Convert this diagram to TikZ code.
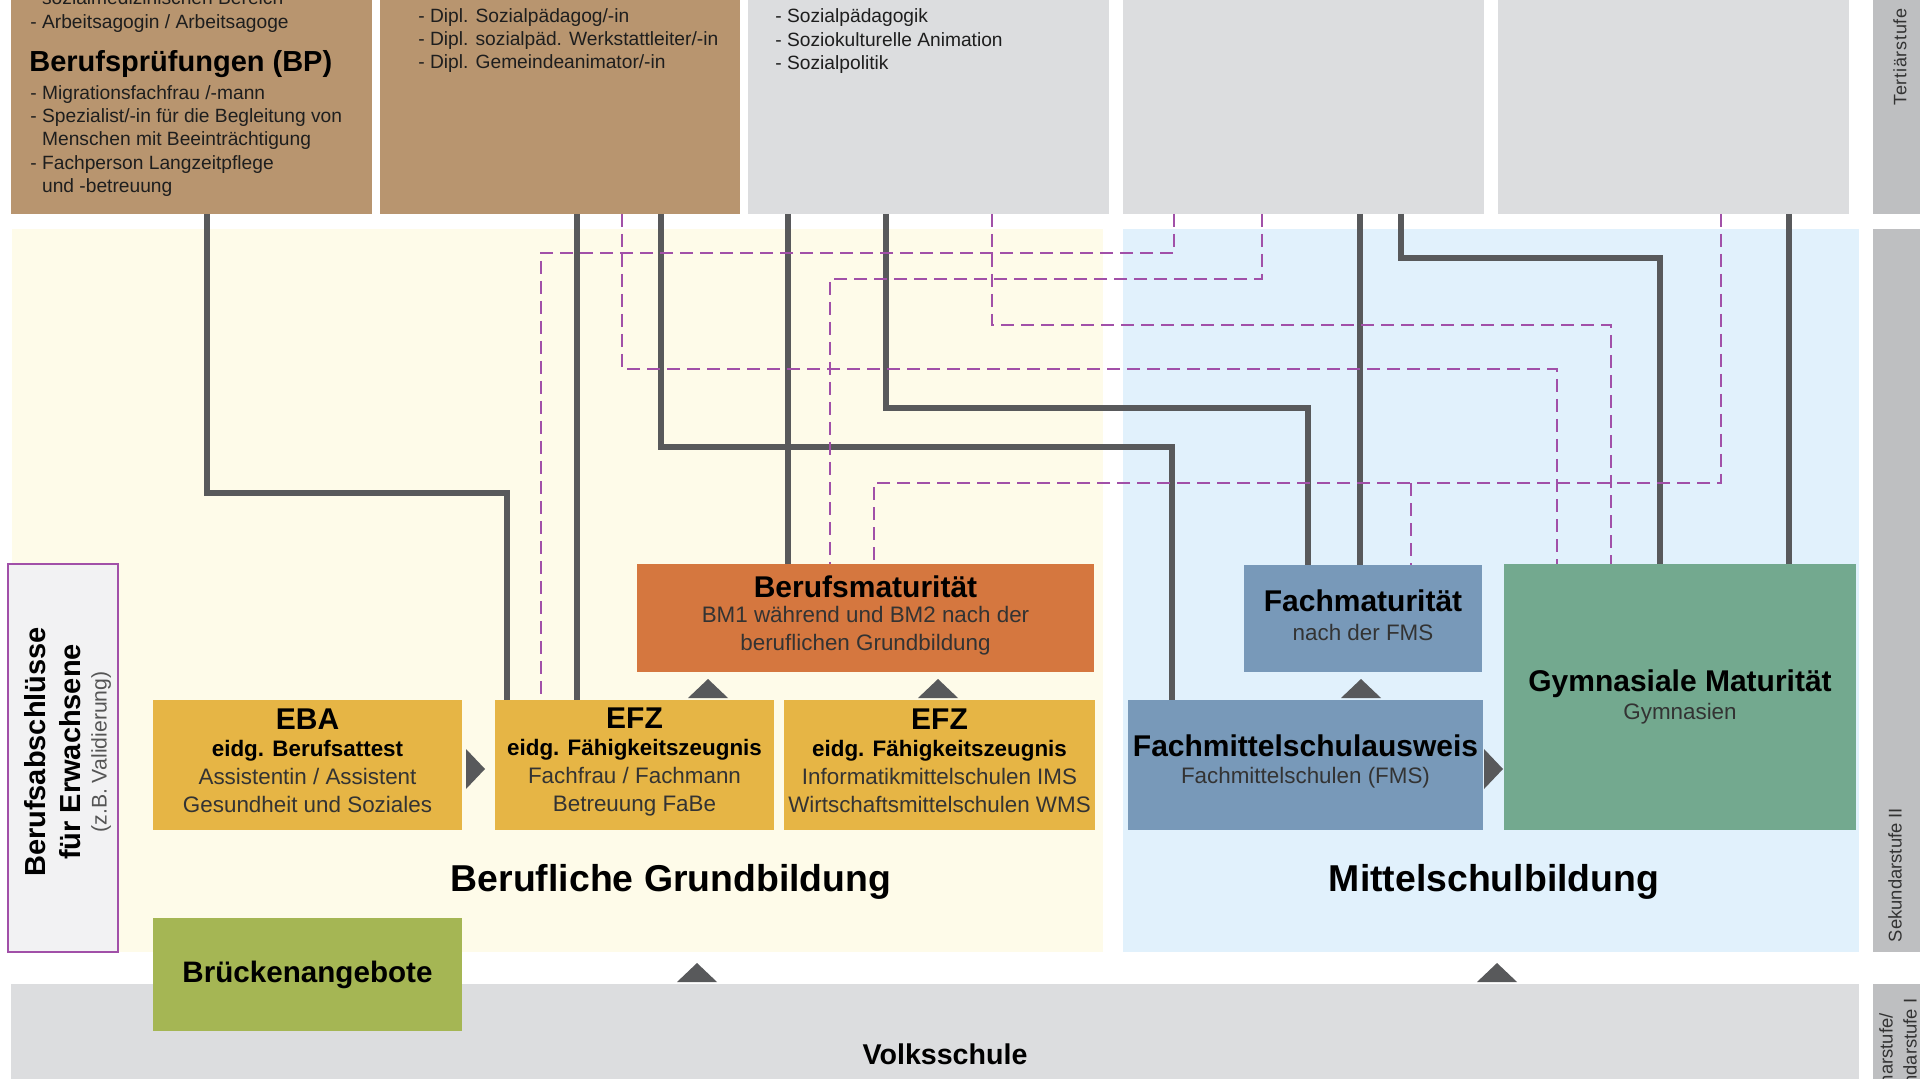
\documentclass[tikz,border=0pt]{standalone}
\usepackage{fontspec}
\setmainfont{Liberation Sans}
\newfontfamily\stripfont{Liberation Sans}[LetterSpace=4]
\usepackage{xcolor}
\definecolor{brownbox}{HTML}{B8956F}
\definecolor{greybox}{HTML}{DCDDDF}
\definecolor{stripgrey}{HTML}{BEBFC1}
\definecolor{creambg}{HTML}{FEFBE9}
\definecolor{skybg}{HTML}{E1F1FC}
\definecolor{bmorange}{HTML}{D5773F}
\definecolor{efzgold}{HTML}{E6B545}
\definecolor{fmsblue}{HTML}{7899B9}
\definecolor{gymgreen}{HTML}{73A98F}
\definecolor{bridgegreen}{HTML}{A5B654}
\definecolor{adultgrey}{HTML}{F2F2F3}
\definecolor{linegrey}{HTML}{58595B}
\definecolor{linkpurple}{HTML}{A150A8}
\definecolor{subgrey}{HTML}{333333}
\definecolor{notegrey}{HTML}{555555}
\definecolor{listblack}{HTML}{1E1E1E}
\newcommand{\boxtitle}[1]{{\color{black}\fontsize{15}{17}\selectfont\bfseries #1}}

\begin{document}
\begin{tikzpicture}[x=0.5pt, y=-0.5pt,
  panel/.style={rectangle, inner sep=0pt, outer sep=0pt, anchor=north west},
  tierbox/.style={panel, minimum height=127pt, anchor=south west},
  degree/.style={panel, align=center, text=subgrey, font=\fontsize{11.2}{14}\selectfont},
  listtext/.style={anchor=north west, inner sep=0pt, align=left, text=listblack,
    font=\fontsize{9.6}{11.65}\selectfont},
  gline/.style={draw=linegrey, line width=2.9pt},
  dline/.style={draw=linkpurple, line width=1.45pt, dash pattern=on 6.5pt off 3.5pt},
  pointer/.style={fill=linegrey},
  tierlabel/.style={rotate=90, inner sep=0pt, text=subgrey}]

%% frame: the page is 1920 x 1079 px, one px is 0.5pt, y runs downwards
\useasboundingbox (0,0) rectangle (1920,1079);
\clip (0,0) rectangle (1920,1079);
\fill[white] (0,0) rectangle (1920,1079);

%% ------------------------------------------------------------------
%% Tertiary level -- five boxes, cut off at the top edge
%% ------------------------------------------------------------------
\node[tierbox, fill=brownbox, minimum width=180.5pt] (pruef) at (11,214) {};
\node[tierbox, fill=brownbox, minimum width=180pt]   (hfs)   at (380,214) {};
\node[tierbox, fill=greybox,  minimum width=180.5pt] (fhs)   at (748,214) {};
\node[tierbox, fill=greybox,  minimum width=180.5pt] (phs)   at (1123,214) {};
\node[tierbox, fill=greybox,  minimum width=175.5pt] (uni)   at (1498,214) {};
\node[tierbox, fill=stripgrey, minimum width=30pt]   (tert)  at (1873,214) {};
\node[tierlabel, font=\stripfont\fontsize{9}{11}\selectfont] (tertlabel) at (1900,57) {Tertiärstufe};

% lists inside the tertiary boxes
\node[listtext] (pruefhfp) at (30,-9.5)
  {\hphantom{- }sozialmedizinischen Bereich\\- Arbeitsagogin / Arbeitsagoge};
\node[anchor=base west, inner sep=0pt, font=\fontsize{14.5}{17}\selectfont\bfseries]
  (pruefbp) at (29,72) {Berufsprüfungen (BP)};
\node[listtext] (pruefbplist) at (30,85)
  {- Migrationsfachfrau /-mann\\
   - Spezialist/-in für die Begleitung von\\
   \hphantom{- }Menschen mit Beeinträchtigung\\
   - Fachperson Langzeitpflege\\
   \hphantom{- }und -betreuung};
\node[listtext] (hfslist) at (418,8)
  {- Dipl. Sozialpädagog/-in\\
   - Dipl. sozialpäd. Werkstattleiter/-in\\
   - Dipl. Gemeindeanimator/-in};
\node[listtext] (fhslist) at (775,8.5)
  {- Sozialpädagogik\\
   - Soziokulturelle Animation\\
   - Sozialpolitik};

%% ------------------------------------------------------------------
%% Secondary level II -- two coloured fields and the tier strip
%% ------------------------------------------------------------------
\fill[creambg] (12,229) rectangle (1103,952);
\fill[skybg] (1123,229) rectangle (1859,952);
\node[panel, fill=stripgrey, minimum width=30pt, minimum height=361.5pt] (sek2) at (1873,229) {};
\node[tierlabel, font=\fontsize{9.2}{11}\selectfont] (sek2label) at (1895,875) {Sekundarstufe II};

\node[anchor=base, font=\fontsize{18.7}{22}\selectfont\bfseries] (grundlabel) at (671,891)
  {Berufliche Grundbildung};
\node[anchor=base, font=\fontsize{18.7}{22}\selectfont\bfseries] (mittellabel) at (1494,891)
  {Mittelschulbildung};

% adult qualifications
\node[panel, fill=adultgrey, draw=linkpurple, line width=1pt,
  minimum width=55pt, minimum height=194pt] (adult) at (8,564) {};
\node[rotate=90, align=center, inner sep=0pt, font=\fontsize{14.5}{17.25}\selectfont\bfseries]
  (adulttext) at (68,752)
  {Berufsabschlüsse\\ für Erwachsene\\[-4.15pt]
   {\mdseries\fontsize{10.6}{12}\selectfont\color{notegrey}(z.B. Validierung)}};

% degrees (text depth lifts each text block a little inside its box)
\node[degree, fill=bmorange, minimum width=228.5pt, minimum height=54pt, text depth=4.75pt]
  (bm) at (637,564)
  {\boxtitle{Berufsmaturität}\\[-1.3pt] BM1 während und BM2 nach der\\ beruflichen Grundbildung};
\node[degree, fill=fmsblue, minimum width=119pt, minimum height=53.5pt, text depth=3.3pt]
  (fm) at (1244,565)
  {\boxtitle{Fachmaturität}\\[0.3pt] nach der FMS};
\node[degree, fill=gymgreen, minimum width=176pt, minimum height=133pt] (gym) at (1504,564)
  {\boxtitle{Gymnasiale Maturität}\\[-0.3pt] Gymnasien};
\node[degree, fill=efzgold, minimum width=154.5pt, minimum height=65pt, text depth=4.3pt]
  (eba) at (153,700)
  {\boxtitle{EBA}\\[-0.4pt] {\bfseries\color{black}eidg. Berufsattest}\\
   Assistentin / Assistent\\ Gesundheit und Soziales};
\node[degree, fill=efzgold, minimum width=139.5pt, minimum height=65pt, text depth=5.3pt]
  (efz1) at (495,700)
  {\boxtitle{EFZ}\\[-0.4pt] {\bfseries\color{black}eidg. Fähigkeitszeugnis}\\
   Fachfrau / Fachmann\\ Betreuung FaBe};
\node[degree, fill=efzgold, minimum width=155.5pt, minimum height=65pt, text depth=4.3pt]
  (efz2) at (784,700)
  {\boxtitle{EFZ}\\[-0.4pt] {\bfseries\color{black}eidg. Fähigkeitszeugnis}\\
   Informatikmittelschulen IMS\\ Wirtschaftsmittelschulen WMS};
\node[degree, fill=fmsblue, minimum width=177.5pt, minimum height=65pt, text depth=5.7pt]
  (fms) at (1128,700)
  {\boxtitle{Fachmittelschulausweis}\\[-0.5pt] Fachmittelschulen (FMS)};

%% ------------------------------------------------------------------
%% Primary / secondary level I
%% ------------------------------------------------------------------
\fill[greybox] (11,984) rectangle (1859,1100);
\node[anchor=base, font=\fontsize{14.3}{17}\selectfont\bfseries] (volkslabel) at (945,1064) {Volksschule};
\node[panel, fill=stripgrey, minimum width=30pt, minimum height=60pt] (sek1) at (1873,984) {};
\node[tierlabel, align=center, font=\fontsize{9.2}{12}\selectfont] (sek1label) at (1898,1063)
  {Primarstufe/\\Sekundarstufe I};
\node[degree, fill=bridgegreen, minimum width=154.5pt, minimum height=56.5pt] (bridge) at (153,918)
  {{\color{black}\fontsize{14.8}{17}\selectfont\bfseries Brückenangebote}};

%% ------------------------------------------------------------------
%% Pathways: solid = direct access, dashed = access with extra steps
%% ------------------------------------------------------------------
% straight drops
\foreach \from/\to/\x in {hfs/efz1/577, fhs/bm/788, phs/fm/1360, uni/gym/1789}
  \draw[gline] (\from.south -| \x,0) -- (\to.north -| \x,0);
% elbowed drops: down to \y, across to \xx, down into the box
\foreach \from/\to/\x/\y/\xx in {pruef/efz1/207/493/507, hfs/fms/661/447/1172,
                                 fhs/fm/886/408/1308, phs/gym/1401/258/1660}
  \draw[gline] (\from.south -| \x,0) |- (\xx,\y) -- (\to.north -| \xx,0);

\foreach \from/\to/\x/\y/\xx in {phs/efz1/1174/253/541, phs/bm/1262/279/830,
                                 hfs/gym/622/369/1557, fhs/gym/992/325/1611,
                                 uni/bm/1721/483/874}
  \draw[dline] (\from.south -| \x,0) |- (\xx,\y) -- (\to.north -| \xx,0);
\coordinate (unisplit) at (1411,483);
\draw[dline] (unisplit) -- (fm.north -| unisplit);

% transfer pointers
\foreach \cx/\by in {708/698, 938/698, 1361/698, 697/982, 1497/982}
  \fill[pointer] (\cx-20,\by) -- (\cx+20,\by) -- (\cx,\by-19) -- cycle;
\foreach \bx/\cy in {466/769, 1484/769}
  \fill[pointer] (\bx,\cy-20) -- (\bx,\cy+20) -- (\bx+19,\cy) -- cycle;

\end{tikzpicture}
\end{document}
